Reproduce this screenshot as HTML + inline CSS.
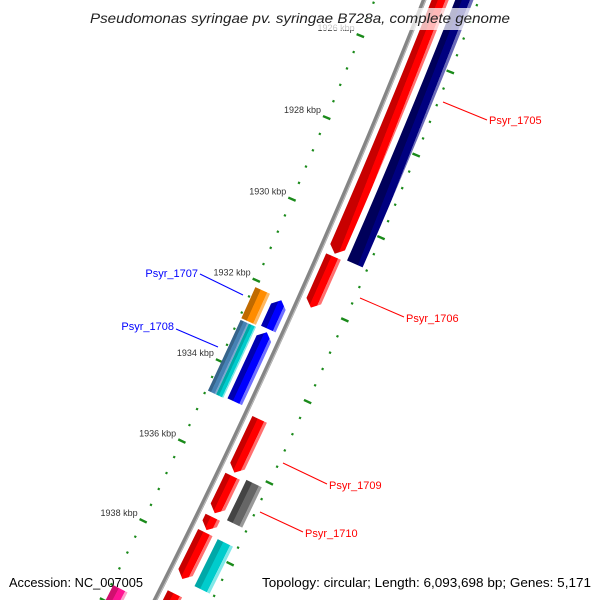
<!DOCTYPE html>
<html><head><meta charset="utf-8"><style>
html,body{margin:0;padding:0;background:#fff;width:600px;height:600px;overflow:hidden;}
svg{display:block;font-family:"Liberation Sans",sans-serif;overflow:hidden;}
</style></head><body>
<svg id="map" width="600" height="600" viewBox="0 0 600 600" xmlns="http://www.w3.org/2000/svg">
<defs id="defs"></defs>
<g id="ticks"></g>
<g id="backbone"></g>
<g id="features"></g>
<g id="ticklabels" font-size="9" fill="#333"></g>
<g font-size="11">
  <line x1="443" y1="102" x2="487" y2="120" stroke="#f00" stroke-width="1"/>
  <text x="489" y="124" fill="#f00">Psyr_1705</text>
  <line x1="360" y1="298" x2="404" y2="317" stroke="#f00" stroke-width="1"/>
  <text x="406" y="322" fill="#f00">Psyr_1706</text>
  <line x1="200" y1="274" x2="243" y2="295" stroke="#00f" stroke-width="1"/>
  <text x="198" y="277" fill="#00f" text-anchor="end">Psyr_1707</text>
  <line x1="176" y1="329" x2="218" y2="347" stroke="#00f" stroke-width="1"/>
  <text x="174" y="330" fill="#00f" text-anchor="end">Psyr_1708</text>
  <line x1="283" y1="463" x2="327" y2="484" stroke="#f00" stroke-width="1"/>
  <text x="329" y="489" fill="#f00">Psyr_1709</text>
  <line x1="260" y1="512" x2="303" y2="532" stroke="#f00" stroke-width="1"/>
  <text x="305" y="537" fill="#f00">Psyr_1710</text>
</g>
<rect x="84" y="8" width="432" height="22" fill="#fff" fill-opacity="0.72"/>
<text x="90" y="23" textLength="420" lengthAdjust="spacingAndGlyphs" font-size="14" font-style="italic" fill="#222">Pseudomonas syringae pv. syringae B728a, complete genome</text>
<text x="9" y="587" textLength="134" lengthAdjust="spacingAndGlyphs" font-size="13" fill="#000">Accession: NC_007005</text>
<text x="262" y="587" textLength="329" lengthAdjust="spacingAndGlyphs" font-size="13" fill="#000">Topology: circular; Length: 6,093,698 bp; Genes: 5,171</text>
</svg>
<script>
// ---- data ----
const tickLabelKbp = [1926, 1928, 1930, 1932, 1934, 1936, 1938];
const tickLabels = ["1926 kbp","1928 kbp","1930 kbp","1932 kbp","1934 kbp","1936 kbp","1938 kbp"];
const featStart = [1918, 1930.81, 1934.81, 1936.22, 1937.24, 1937.62, 1939.15, 1918, 1936.16, 1937.63, 1932.18, 1932.97, 1932.15, 1932.96, 1932.96, 1939.6];
const featEnd   = [1930.74, 1932.06, 1936.13, 1937.14, 1937.56, 1938.78, 1943, 1930.77, 1937.16, 1938.8, 1932.89, 1934.69, 1932.92, 1934.72, 1934.72, 1943];
const featLane  = ["1","1","1","1","1","1","1","2","2","2","-1","-1","-2","-2a","-2b","-2"];
const featDir   = [1,1,1,1,1,1,1,0,0,0,-1,-1,0,0,0,0];
const featColor = ["red","red","red","red","red","red","red","navy","gray","cyan","blue","blue","orange","steel","cyan","pink"];

// ---- geometry ----
const CX=-6225, CY=-2621, K0=1926, A0=21.97, DPK=0.3575, R0=7147;
const laneR = {"1":[7154,7170],"2":[7176,7193],"-1":[7124,7140],"-2":[7103,7119],"-2a":[7103,7112],"-2b":[7112,7120]};
const pal = {red:["#c80000","#ff0000","#ff7070"],navy:["#00005a","#000080","#6a6ab8"],gray:["#444","#666","#999"],
  cyan:["#00a8a8","#00cccc","#80e8e8"],blue:["#0000b0","#0000ff","#7070ff"],orange:["#c06a00","#ff8c00","#ffb860"],
  steel:["#36648b","#4682b4","#7aa7cf"],pink:["#d0106e","#ff1493","#ffa0cc"]};
function pt(k,r){const a=(A0+(k-K0)*DPK)*Math.PI/180;return [CX+r*Math.cos(a),CY+r*Math.sin(a)];}
const NS="http://www.w3.org/2000/svg";
function mk(tag,attrs,parent){const e=document.createElementNS(NS,tag);for(const k in attrs)e.setAttribute(k,attrs[k]);parent.appendChild(e);return e;}

// ticks
const tg=document.getElementById('ticks');
for(let i=0;i<=55;i++){
  const k=1922+i*0.4, major=(i%5===0);
  [7101,7198].forEach(function(rc){
    const h=major?4:1.1;
    const a=pt(k,rc-h), b=pt(k,rc+h);
    const l=mk('line',{x1:a[0].toFixed(2),y1:a[1].toFixed(2),x2:b[0].toFixed(2),y2:b[1].toFixed(2),stroke:"#1a8a1a","stroke-width":major?2.4:2.2},tg);
    
    
  });
}
// tick labels
const tl=document.getElementById('ticklabels');
tickLabelKbp.forEach(function(k,i){
  const p=pt(k,7097);
  const t=mk('text',{x:(p[0]-2).toFixed(1),y:(p[1]-3).toFixed(1),"text-anchor":"end"},tl);
  t.textContent=tickLabels[i];
  
  
});
// backbone
const bg=document.getElementById('backbone');
function arcPath(k1,k2,r){let d="";for(let k=k1;k<=k2+1e-9;k+=0.5){const p=pt(k,r);d+=(d?"L":"M")+p[0].toFixed(2)+","+p[1].toFixed(2);}return d;}
const bb=mk('path',{d:arcPath(1916,1946,R0),fill:"none",stroke:"#858585","stroke-width":4.5},bg);


const bl=mk('path',{d:arcPath(1916,1946,R0+1.5),fill:"none",stroke:"#bdbdbd","stroke-width":1},bg);



// features
const fg=document.getElementById('features'), defs=document.getElementById('defs');
const TIP=0.16;
featStart.forEach(function(k1,i){
  const k2=featEnd[i], rr=laneR[featLane[i]], ra=rr[0], rb=rr[1], rm=(ra+rb)/2, dir=featDir[i];
  const s = dir===-1 ? k1+TIP : k1, e = dir===1 ? k2-TIP : k2;
  const outer=[], inner=[];
  const n=Math.max(2,Math.ceil((e-s)/0.25));
  for(let j=0;j<=n;j++){const k=s+(e-s)*j/n;outer.push(pt(k,rb));inner.push(pt(k,ra));}
  let pts=[];
  if(dir===-1) pts.push(pt(k1,rm));
  pts=pts.concat(outer);
  if(dir===1) pts.push(pt(k2,rm));
  pts=pts.concat(inner.reverse());
  const c=pal[featColor[i]], km=(k1+k2)/2, g1=pt(km,ra), g2=pt(km,rb);
  const gid="g"+i;
  const gr=mk('linearGradient',{id:gid,gradientUnits:"userSpaceOnUse",x1:g1[0],y1:g1[1],x2:g2[0],y2:g2[1]},defs);
  [[0,c[0]],[0.36,c[0]],[0.37,c[1]],[0.8,c[1]],[0.81,c[2]],[1,c[2]]].forEach(function(s){mk('stop',{offset:s[0],"stop-color":s[1]},gr);});
  const poly=mk('polygon',{points:pts.map(function(p){return p[0].toFixed(2)+","+p[1].toFixed(2);}).join(" "),fill:"url(#"+gid+")"},fg);
  
  
});
</script>
</body></html>
